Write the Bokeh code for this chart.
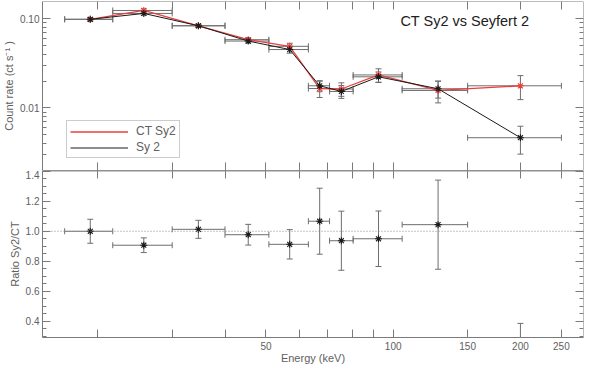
from bokeh.plotting import figure
from bokeh.models import (FixedTicker, LogAxis, LinearAxis, Whisker, TeeHead,
                          ColumnDataSource, Legend, LegendItem, Span, Label)
from bokeh.layouts import column
from bokeh.embed import file_html
from bokeh.resources import INLINE

# ---------------- data ----------------
energy = [19.2, 25.7, 34.6, 45.4, 56.9, 67.0, 75.4, 92.3, 127.7, 200.0]
e_lo = [16.7, 21.7, 30.0, 40.0, 50.8, 63.0, 70.7, 80.4, 105.0, 150.0]
e_hi = [21.7, 30.0, 40.0, 50.8, 63.0, 70.7, 80.4, 105.0, 150.0, 250.0]

ct_rate = [0.098, 0.123, 0.083, 0.058, 0.0489, 0.0165, 0.0163, 0.0234, 0.0157, 0.0177]
ct_err = [0.004, 0.005, 0.003, 0.003, 0.004, 0.0034, 0.0028, 0.0040, 0.0043, 0.0053]

sy2_rate = [0.098, 0.114, 0.083, 0.056, 0.045, 0.0177, 0.0153, 0.0223, 0.0164, 0.00465]
sy2_err = [0.004, 0.005, 0.003, 0.003, 0.004, 0.0025, 0.0025, 0.0030, 0.0035, 0.0016]

ratio = [1.0, 0.907, 1.013, 0.977, 0.913, 1.067, 0.937, 0.95, 1.044, 0.263]
ratio_err = [0.08, 0.049, 0.06, 0.069, 0.098, 0.22, 0.197, 0.185, 0.297, 0.123]
ratio_ref = 1.0

x_ticks = [20, 30, 40, 50, 60, 70, 80, 90, 100, 150, 200, 250]
x_tick_labels = {20: "", 30: "", 40: "", 50: "50", 60: "", 70: "", 80: "", 90: "",
                 100: "100", 150: "150", 200: "200", 250: "250"}
rate_ticks = [0.01, 0.1]
rate_tick_labels = {0.01: "0.01", 0.1: "0.10"}
rate_minor = [0.002, 0.003, 0.004, 0.005, 0.006, 0.007, 0.008, 0.009,
              0.02, 0.03, 0.04, 0.05, 0.06, 0.07, 0.08, 0.09]
ratio_ticks = [0.4, 0.6, 0.8, 1.0, 1.2, 1.4]
ratio_tick_labels = {0.4: "0.4", 0.6: "0.6", 0.8: "0.8", 1.0: "1.0", 1.2: "1.2", 1.4: "1.4"}
ratio_minor = [0.3, 0.35, 0.4, 0.45, 0.5, 0.55, 0.6, 0.65, 0.7, 0.75, 0.8, 0.85,
               0.9, 0.95, 1.0, 1.05, 1.1, 1.15, 1.2, 1.25, 1.3, 1.35, 1.4]

title_text = "CT Sy2 vs Seyfert 2"
# --------------------------------------

FONT = "Liberation Sans"
GRAY = "#7a7a7a"
TXT = "#606060"
RED = "#e8403e"
BLACK = "#1a1a1a"
ERRC = "#6e6e6e"

X_RANGE = (14.8, 282)
RATE_RANGE = (0.002, 0.155)
RATIO_RANGE = (0.292, 1.405)


def style_axis(ax, line_color=GRAY, line_width=1):
    ax.axis_line_color = line_color
    ax.axis_line_width = line_width
    ax.major_tick_in = 8
    ax.major_tick_out = 0
    ax.minor_tick_in = 4
    ax.minor_tick_out = 0
    ax.major_tick_line_color = GRAY
    ax.minor_tick_line_color = GRAY
    ax.major_label_text_font = FONT
    ax.major_label_text_color = TXT
    ax.major_label_text_font_size = "10px"
    ax.major_label_standoff = 3
    ax.axis_label_text_font = FONT
    ax.axis_label_text_font_style = "normal"
    ax.axis_label_text_color = TXT
    ax.axis_label_text_font_size = "11px"
    ax.axis_label_standoff = 2


def blank_labels(ax, ticks, loc):
    # a tick-only axis pinned to the frame edge, so it takes no border space
    ax.major_label_overrides = {t: "" for t in ticks}
    ax.major_label_text_font_size = "1px"
    ax.major_label_standoff = 0
    ax.fixed_location = loc


# ---------- top panel ----------
p1 = figure(width=584, height=170, x_axis_type="log", y_axis_type="log",
            x_range=X_RANGE, y_range=RATE_RANGE,
            output_backend="svg", toolbar_location=None,
            min_border_left=35, min_border_right=1, min_border_top=1, min_border_bottom=0)
p1.grid.visible = False
p1.outline_line_color = None

p1.xaxis.ticker = FixedTicker(ticks=x_ticks, minor_ticks=[])
style_axis(p1.xaxis[0], line_color=None)
blank_labels(p1.xaxis[0], x_ticks, RATE_RANGE[0])

p1.yaxis.ticker = FixedTicker(ticks=rate_ticks, minor_ticks=rate_minor)
p1.yaxis.major_label_overrides = rate_tick_labels
p1.yaxis.axis_label = "Count rate (ct s\u207b\u00b9 )"
style_axis(p1.yaxis[0])

ax_top = LogAxis(ticker=FixedTicker(ticks=x_ticks, minor_ticks=[]))
style_axis(ax_top)
blank_labels(ax_top, x_ticks, RATE_RANGE[1])
p1.add_layout(ax_top, "above")
ax_r1 = LogAxis(ticker=FixedTicker(ticks=rate_ticks, minor_ticks=rate_minor))
style_axis(ax_r1)
blank_labels(ax_r1, rate_ticks, X_RANGE[1])
p1.add_layout(ax_r1, "right")

src_ct = ColumnDataSource(dict(x=energy, lo=e_lo, hi=e_hi, y=ct_rate,
                               ylo=[v - e for v, e in zip(ct_rate, ct_err)],
                               yhi=[v + e for v, e in zip(ct_rate, ct_err)]))
src_sy = ColumnDataSource(dict(x=energy, lo=e_lo, hi=e_hi, y=sy2_rate,
                               ylo=[v - e for v, e in zip(sy2_rate, sy2_err)],
                               yhi=[v + e for v, e in zip(sy2_rate, sy2_err)]))

for src in (src_ct, src_sy):
    p1.add_layout(Whisker(source=src, base="x", lower="ylo", upper="yhi", dimension="height",
                          line_color=ERRC, line_width=1,
                          lower_head=TeeHead(size=6, line_color=ERRC),
                          upper_head=TeeHead(size=6, line_color=ERRC)))
    p1.add_layout(Whisker(source=src, base="y", lower="lo", upper="hi", dimension="width",
                          line_color=ERRC, line_width=1,
                          lower_head=TeeHead(size=6, line_color=ERRC),
                          upper_head=TeeHead(size=6, line_color=ERRC)))

l_ct = p1.line("x", "y", source=src_ct, line_color=RED, line_width=1.3)
p1.scatter("x", "y", source=src_ct, marker="asterisk", size=7, line_color=RED, line_width=1.1)
l_sy = p1.line("x", "y", source=src_sy, line_color=BLACK, line_width=1)
p1.scatter("x", "y", source=src_sy, marker="asterisk", size=7, line_color=BLACK, line_width=1.1)

legend = Legend(items=[LegendItem(label="CT Sy2", renderers=[l_ct]),
                       LegendItem(label="Sy 2", renderers=[l_sy])],
                location=(24, 12), glyph_width=58, glyph_height=11, label_height=11,
                label_standoff=8, padding=3, spacing=2, margin=0,
                label_text_font=FONT, label_text_font_size="12px", label_text_color=TXT,
                border_line_color="#9a9a9a", background_fill_alpha=1)
p1.add_layout(legend)

p1.add_layout(Label(x=104, y=0.093, text=title_text, text_font=FONT,
                    text_font_size="14.5px", text_color="#202020",
                    text_align="left", text_baseline="middle"))

# ---------- bottom panel ----------
p2 = figure(width=584, height=196, x_axis_type="log",
            x_range=p1.x_range, y_range=RATIO_RANGE,
            output_backend="svg", toolbar_location=None,
            min_border_left=35, min_border_right=1, min_border_top=0, min_border_bottom=0)
p2.grid.visible = False
p2.outline_line_color = None

p2.xaxis.ticker = FixedTicker(ticks=x_ticks, minor_ticks=[])
p2.xaxis.major_label_overrides = x_tick_labels
p2.xaxis.axis_label = "Energy (keV)"
style_axis(p2.xaxis[0])
p2.xaxis.major_label_standoff = 4
p2.xaxis.axis_label_standoff = -1

p2.yaxis.ticker = FixedTicker(ticks=ratio_ticks, minor_ticks=ratio_minor)
p2.yaxis.major_label_overrides = ratio_tick_labels
p2.yaxis.axis_label = "Ratio Sy2/CT"
style_axis(p2.yaxis[0])

ax_top2 = LogAxis(ticker=FixedTicker(ticks=x_ticks, minor_ticks=[]))
style_axis(ax_top2, line_color="#222222", line_width=1.3)
blank_labels(ax_top2, x_ticks, RATIO_RANGE[1])
p2.add_layout(ax_top2, "above")
ax_r2 = LinearAxis(ticker=FixedTicker(ticks=ratio_ticks, minor_ticks=ratio_minor))
style_axis(ax_r2)
blank_labels(ax_r2, ratio_ticks, X_RANGE[1])
p2.add_layout(ax_r2, "right")

p2.add_layout(Span(location=ratio_ref, dimension="width", line_color="#8a8a8a",
                   line_dash="1 2", line_width=1))

src_r = ColumnDataSource(dict(x=energy, lo=e_lo, hi=e_hi, y=ratio,
                              ylo=[v - e for v, e in zip(ratio, ratio_err)],
                              yhi=[v + e for v, e in zip(ratio, ratio_err)]))
p2.add_layout(Whisker(source=src_r, base="x", lower="ylo", upper="yhi", dimension="height",
                      line_color=ERRC, line_width=1,
                      lower_head=TeeHead(size=6, line_color=ERRC),
                      upper_head=TeeHead(size=6, line_color=ERRC)))
p2.add_layout(Whisker(source=src_r, base="y", lower="lo", upper="hi", dimension="width",
                      line_color=ERRC, line_width=1,
                      lower_head=TeeHead(size=6, line_color=ERRC),
                      upper_head=TeeHead(size=6, line_color=ERRC)))
p2.scatter("x", "y", source=src_r, marker="asterisk", size=7, line_color=BLACK, line_width=1.1)

layout = column(p1, p2, spacing=0)
open("out.html", "w").write(file_html(layout, INLINE))
